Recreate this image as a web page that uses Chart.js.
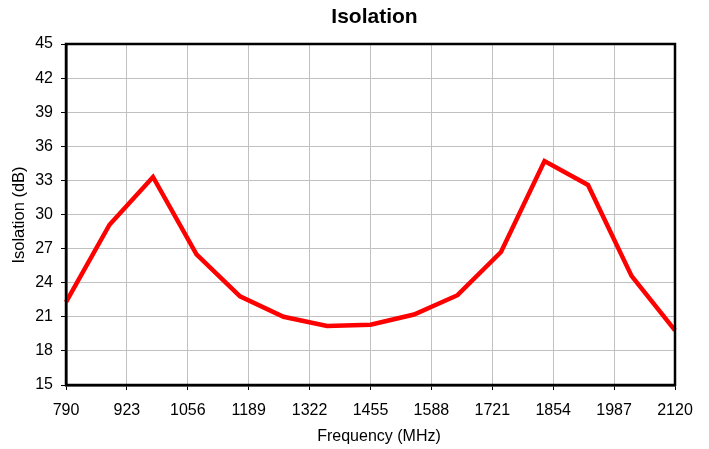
<!DOCTYPE html>
<html>
<head>
<meta charset="utf-8">
<script src="https://cdn.jsdelivr.net/npm/chart.js@4/dist/chart.umd.min.js"></script>
<style>
  html, body { margin: 0; padding: 0; background: #fff; }
  #wrap { width: 709px; height: 449px; position: relative; }
</style>
</head>
<body>
<div id="wrap"><canvas id="c" width="709" height="449"></canvas></div>
<script>
const chartTitle = "Isolation";
const xTitle = "Frequency (MHz)";
const yTitle = "Isolation (dB)";
const frequencies = [790, 885, 980, 1075, 1170, 1265, 1360, 1455, 1550, 1645, 1740, 1835, 1930, 2025, 2120];
const isolation = [22.3, 29.1, 33.3, 26.5, 22.8, 21.0, 20.2, 20.3, 21.2, 22.9, 26.7, 34.7, 32.6, 24.6, 19.8];
const xTickValues = [790, 923, 1056, 1189, 1322, 1455, 1588, 1721, 1854, 1987, 2120];
const yTickValues = [15, 18, 21, 24, 27, 30, 33, 36, 39, 42, 45];

const FONT = '"Liberation Sans", Arial, sans-serif';

const framePlugin = {
  id: 'frame',
  afterDraw(chart) {
    const {ctx, chartArea: a} = chart;
    ctx.save();
    ctx.strokeStyle = '#000';
    ctx.lineWidth = 2.5;
    ctx.strokeRect(a.left, a.top, a.right - a.left, a.bottom - a.top);
    ctx.fillStyle = '#000';
    ctx.textAlign = 'center';
    ctx.textBaseline = 'middle';
    ctx.font = 'bold 21px ' + FONT;
    ctx.fillText(chartTitle, 374.5, 17);
    ctx.font = '16px ' + FONT;
    ctx.fillText(xTitle, 379, 437);
    ctx.translate(19, 215);
    ctx.rotate(-Math.PI / 2);
    ctx.font = '16.5px ' + FONT;
    ctx.fillText(yTitle, 0, 0);
    ctx.restore();
  }
};

new Chart(document.getElementById('c'), {
  type: 'line',
  data: {
    datasets: [{
      data: frequencies.map((f, i) => ({x: f, y: isolation[i]})),
      borderColor: '#ff0000',
      borderWidth: 4.5,
      pointRadius: 0,
      tension: 0,
      fill: false,
      clip: 5
    }]
  },
  options: {
    responsive: false,
    animation: false,
    devicePixelRatio: 1,
    layout: { padding: { top: 44, right: 34, left: 0, bottom: 0 } },
    plugins: { legend: { display: false }, title: { display: false }, tooltip: { enabled: false } },
    scales: {
      x: {
        type: 'linear',
        min: 790, max: 2120,
        afterBuildTicks(s) { s.ticks = xTickValues.map(v => ({value: v})); },
        afterFit(s) { s.height = 64; },
        grid: { color: '#c0c0c0', lineWidth: 1, tickLength: 5, tickColor: '#000' },
        border: { color: '#000', width: 2.5 },
        ticks: { autoSkip: false, maxRotation: 0, color: '#000', padding: 11, font: { family: FONT, size: 16 }, callback: v => String(v) },
        title: { display: false, text: xTitle }
      },
      y: {
        type: 'linear',
        min: 15, max: 45,
        afterBuildTicks(s) { s.ticks = yTickValues.map(v => ({value: v})); },
        afterFit(s) { s.width = 66; },
        grid: { color: '#c0c0c0', lineWidth: 1, tickLength: 5, tickColor: '#000' },
        border: { color: '#000', width: 2.5 },
        ticks: { color: '#000', padding: 8, font: { family: FONT, size: 16 }, callback: v => String(v) },
        title: { display: false, text: yTitle }
      }
    }
  },
  plugins: [framePlugin]
});
</script>
</body>
</html>
